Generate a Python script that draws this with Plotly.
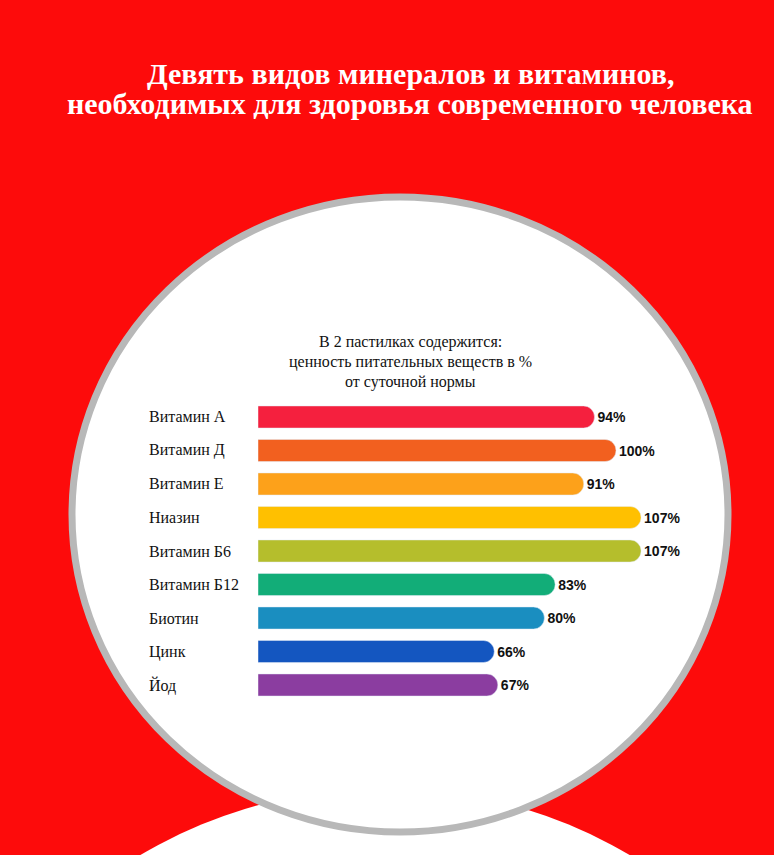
import plotly.graph_objects as go

categories = ["Витамин А", "Витамин Д", "Витамин Е", "Ниазин", "Витамин Б6",
              "Витамин Б12", "Биотин", "Цинк", "Йод"]
values = [94, 100, 91, 107, 107, 83, 80, 66, 67]
labels = [f"{v}%" for v in values]
colors = ["#f5203e", "#f2601f", "#fda11a", "#ffc000", "#b5be2c",
          "#12ad78", "#1a8ec0", "#1456c0", "#8b3da0"]

W, H = 774, 855
px = lambda x: x / W
py = lambda y: 1 - y / H

fig = go.Figure(go.Bar(
    y=categories, x=values, orientation="h", marker_color=colors,
    width=0.66, text=labels, textposition="outside", cliponaxis=False,
    textfont=dict(family="Liberation Sans", size=14, color="#111"),
    hoverinfo="skip"))

x0, x1 = 258, 700
fig.update_layout(
    width=W, height=H, margin=dict(l=0, r=0, t=0, b=0),
    paper_bgcolor="#fd0b0b", plot_bgcolor="rgba(0,0,0,0)",
    showlegend=False, barcornerradius=11,
    uniformtext=dict(minsize=14, mode="show"),
    xaxis=dict(domain=[px(x0), px(x1)], range=[0, (x1 - x0) / 3.58],
               visible=False, fixedrange=True),
    yaxis=dict(domain=[py(701.75), py(400.25)], range=[8.5, -0.5],
               visible=False, fixedrange=True),
)
fig.update_traces(texttemplate="<b>%{text}</b>")

r2 = 480
shapes = [
    dict(type="circle", xref="paper", yref="paper", layer="below",
         x0=px(385 - r2), x1=px(385 + r2), y0=py(788), y1=py(788 + 2 * r2),
         fillcolor="white", line=dict(width=0)),
    dict(type="circle", xref="paper", yref="paper", layer="below",
         x0=px(72), x1=px(728), y0=py(197), y1=py(832),
         fillcolor="white", line=dict(color="#b8b8b8", width=7)),
]
fig.update_layout(shapes=shapes)

ann = []
for t, y in [("Девять видов минералов и витаминов,", 73),
             ("необходимых для здоровья современного человека", 104)]:
    ann.append(dict(text=f"<b>{t}</b>", x=px(410), y=py(y), xref="paper", yref="paper",
                    yanchor="middle", showarrow=False,
                    font=dict(family="Liberation Serif", size=30, color="white")))
for t, y in [("В 2 пастилках содержится:", 342), ("ценность питательных веществ в %", 362),
             ("от суточной нормы", 382)]:
    ann.append(dict(text=t, x=px(410), y=py(y), xref="paper", yref="paper",
                    showarrow=False, font=dict(family="Liberation Serif", size=16, color="#111")))
for c in categories:
    ann.append(dict(text=c, x=px(147), y=c, xref="paper", yref="y", xanchor="left",
                    showarrow=False, font=dict(family="Liberation Serif", size=16, color="#111")))
fig.update_layout(annotations=ann)

fig.write_html("out.html", config={"displayModeBar": False},
               post_script="document.body.style.margin='0';")
